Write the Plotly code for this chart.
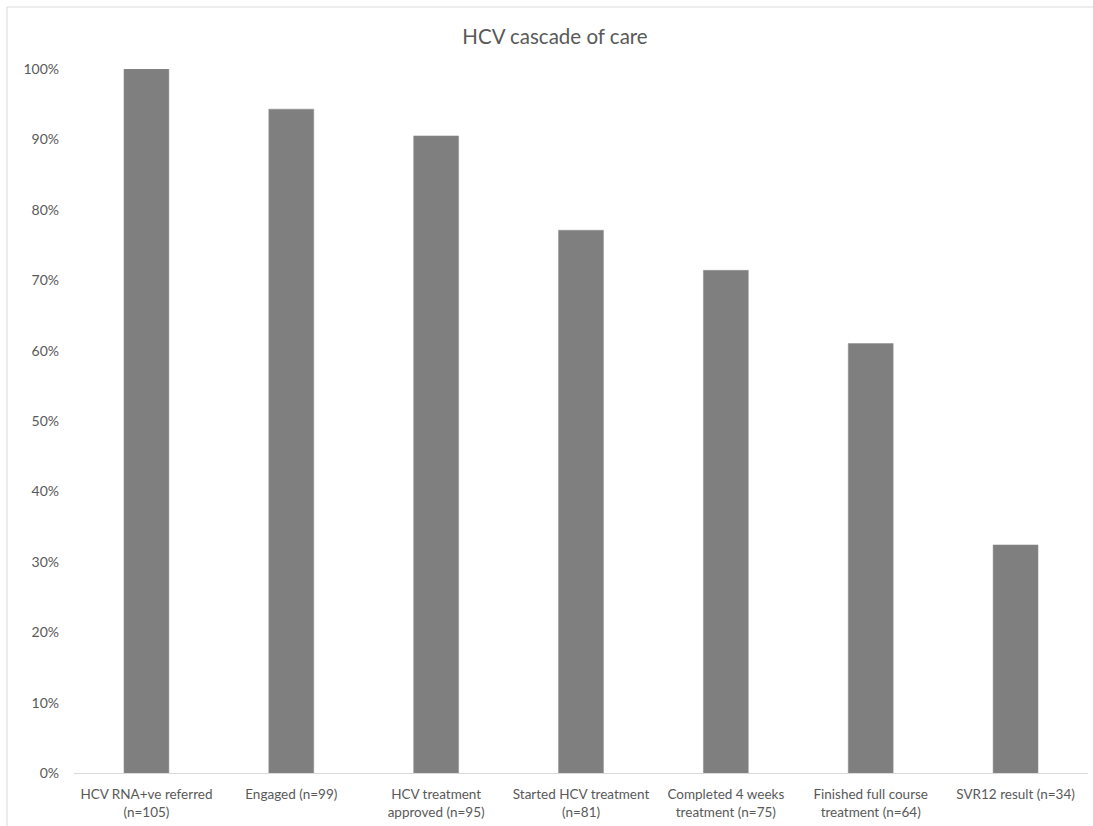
import plotly.graph_objects as go

stages = ["HCV RNA+ve referred<br>(n=105)", "Engaged (n=99)", "HCV treatment<br>approved (n=95)",
          "Started HCV treatment<br>(n=81)", "Completed 4 weeks<br>treatment (n=75)",
          "Finished full course<br>treatment (n=64)", "SVR12 result (n=34)"]
percent = [1.0, 0.943, 0.905, 0.771, 0.714, 0.610, 0.324]
y_ticks = [0, 0.1, 0.2, 0.3, 0.4, 0.5, 0.6, 0.7, 0.8, 0.9, 1.0]

FONT = "Lato, Calibri, 'Open Sans', sans-serif"
TXT = "#595959"

fig = go.Figure(go.Bar(
    x=stages, y=percent,
    marker=dict(color="#7f7f7f", line=dict(color="#8c8c8c", width=0.5)),
    width=0.31,
))

fig.update_layout(
    width=1093, height=826,
    margin=dict(l=74, r=5, t=69, b=53),
    paper_bgcolor="white", plot_bgcolor="white",
    showlegend=False,
    title=dict(text="HCV cascade of care", x=555/1093, xref="container", xanchor="center",
               y=1 - 37/826, yanchor="middle",
               font=dict(family=FONT, size=20.5, color=TXT)),
    font=dict(family=FONT, size=13, color=TXT),
    xaxis=dict(showline=True, linecolor="#d9d9d9", linewidth=1, ticks="",
               ticklabelstandoff=9,
               tickfont=dict(size=13.5, color=TXT), showgrid=False, zeroline=False),
    yaxis=dict(range=[0, 1.0], tickvals=y_ticks, tickformat=".0%", showgrid=False,
               zeroline=False, showline=False, ticks="", ticklabelstandoff=14,
               tickfont=dict(size=14, color=TXT)),
    shapes=[
        dict(type="line", xref="paper", yref="paper",
             x0=(7 - 74) / 1014, x1=(7 - 74) / 1014, y0=-0.2, y1=1 + (69 - 7) / 704,
             line=dict(color="#d9d9d9", width=1), layer="below"),
        dict(type="line", xref="paper", yref="paper",
             x0=(7 - 74) / 1014, x1=1.2, y0=1 + (69 - 7) / 704, y1=1 + (69 - 7) / 704,
             line=dict(color="#d9d9d9", width=1), layer="below"),
    ],
)

fig.write_html("out.html")
